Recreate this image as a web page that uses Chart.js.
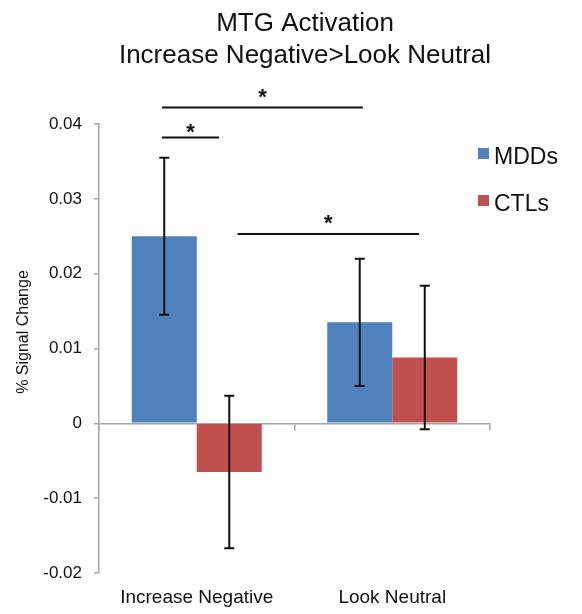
<!DOCTYPE html>
<html>
<head>
<meta charset="utf-8">
<script src="https://cdn.jsdelivr.net/npm/chart.js@4/dist/chart.umd.min.js"></script>
<style>
  html, body { margin: 0; padding: 0; background: #fff; }
  #wrap { width: 582px; height: 614px; }
</style>
</head>
<body>
<div id="wrap"><canvas id="c" width="582" height="614"></canvas></div>
<script>
// ---- data ----
const chartTitle = ['MTG Activation', 'Increase Negative>Look Neutral'];
const yAxisTitle = '% Signal Change';
const categories = ['Increase Negative', 'Look Neutral'];
const seriesNames = ['MDDs', 'CTLs'];
const mddValues = [0.025, 0.0135];
const ctlValues = [-0.0065, 0.0088];
const mddErrors = [0.0105, 0.0085];
const ctlErrors = [0.0102, 0.0096];
const yTickLabels = ['-0.02', '-0.01', '0', '0.01', '0.02', '0.03', '0.04'];
// significance brackets (x in category-index units, y in data units)
const sigLabels = ['*', '*', '*'];
const sigFrom = [-0.178, -0.178, 0.209];
const sigTo = [0.85, 0.114, 1.137];
const sigLineY = [0.0422, 0.0382, 0.0253];
const sigStarY = [0.0443, 0.0397, 0.0275];

// ---- styles ----
const FONT = "'Liberation Sans', Arial, Helvetica, sans-serif";
const BLUE = '#4f81bd';
const RED = '#c0504d';
const AXIS = '#a6a6a6';
const TEXT = '#111111';

const extras = {
  id: 'extras',
  afterDatasetsDraw(chart) {
    const ctx = chart.ctx, xs = chart.scales.x, ys = chart.scales.y;
    ctx.save();
    // error bars
    ctx.strokeStyle = '#111';
    ctx.lineWidth = 2;
    [mddErrors, ctlErrors].forEach((errs, di) => {
      const meta = chart.getDatasetMeta(di);
      meta.data.forEach((bar, i) => {
        const v = chart.data.datasets[di].data[i];
        const yt = ys.getPixelForValue(v + errs[i]);
        const yb = ys.getPixelForValue(v - errs[i]);
        const cx = bar.x;
        ctx.beginPath();
        ctx.moveTo(cx, yt); ctx.lineTo(cx, yb);
        ctx.moveTo(cx - 5, yt); ctx.lineTo(cx + 5, yt);
        ctx.moveTo(cx - 5, yb); ctx.lineTo(cx + 5, yb);
        ctx.stroke();
      });
    });
    // significance brackets
    ctx.strokeStyle = '#111';
    ctx.lineWidth = 2;
    ctx.fillStyle = TEXT;
    ctx.font = 'bold 22px ' + FONT;
    ctx.textAlign = 'center';
    ctx.textBaseline = 'alphabetic';
    sigLabels.forEach((lab, i) => {
      const x1 = xs.getPixelForValue(sigFrom[i]);
      const x2 = xs.getPixelForValue(sigTo[i]);
      const yy = ys.getPixelForValue(sigLineY[i]);
      ctx.beginPath();
      ctx.moveTo(x1, yy); ctx.lineTo(x2, yy);
      ctx.stroke();
      const sy = ys.getPixelForValue(sigStarY[i]);
      ctx.fillText(lab, (x1 + x2) / 2, sy + 12.5);
    });
    ctx.restore();
  },
  afterDraw(chart) {
    const ctx = chart.ctx;
    ctx.save();
    ctx.fillStyle = TEXT;
    // title
    ctx.font = '26px ' + FONT;
    ctx.textAlign = 'center';
    ctx.textBaseline = 'alphabetic';
    ctx.fillText(chartTitle[0], 305, 31);
    ctx.fillText(chartTitle[1], 305, 63);
    // y-axis title
    ctx.save();
    ctx.font = '16px ' + FONT;
    ctx.translate(24, 332);
    ctx.rotate(-Math.PI / 2);
    ctx.textAlign = 'center';
    ctx.textBaseline = 'middle';
    ctx.fillText(yAxisTitle, 0, 0);
    ctx.restore();
    // legend
    ctx.font = '23px ' + FONT;
    ctx.textAlign = 'left';
    ctx.textBaseline = 'alphabetic';
    chart.data.datasets.forEach((ds, i) => {
      const top = 148 + i * 47;
      ctx.fillStyle = ds.backgroundColor;
      ctx.fillRect(478, top, 11, 11);
      ctx.fillStyle = TEXT;
      ctx.fillText(ds.label, 494, top + 15.5);
    });
    ctx.restore();
  }
};

new Chart(document.getElementById('c'), {
  type: 'bar',
  data: {
    labels: categories,
    datasets: [
      { label: seriesNames[0], data: mddValues, backgroundColor: BLUE, borderWidth: 0 },
      { label: seriesNames[1], data: ctlValues, backgroundColor: RED, borderWidth: 0 }
    ]
  },
  options: {
    responsive: false,
    animation: false,
    devicePixelRatio: 1,
    layout: { padding: { left: 0, top: 124, right: 92, bottom: 4 } },
    datasets: { bar: { categoryPercentage: 0.665, barPercentage: 1.0 } },
    plugins: {
      legend: { display: false },
      title: { display: false },
      tooltip: { enabled: false }
    },
    scales: {
      x: {
        type: 'category',
        offset: true,
        afterFit(scale) { scale.height = 37; },
        grid: { display: false, drawTicks: false, tickLength: 0 },
        border: { display: false },
        ticks: { color: TEXT, font: { family: FONT, size: 19 }, padding: 13, maxRotation: 0 }
      },
      x2: {
        type: 'category',
        labels: categories,
        position: { y: 0 },
        offset: true,
        afterFit(scale) { scale.height = 0; },
        grid: { offset: true, drawOnChartArea: false, drawTicks: true, tickLength: 6, color: AXIS, lineWidth: 1.5 },
        border: { display: true, color: AXIS, width: 1.5 },
        ticks: { display: false }
      },
      y: {
        min: -0.02,
        max: 0.04,
        afterFit(scale) { scale.width = 99; },
        grid: { drawOnChartArea: false, drawTicks: true, tickLength: 5, color: AXIS, lineWidth: 1.5 },
        border: { display: true, color: AXIS, width: 1.5 },
        ticks: {
          stepSize: 0.01,
          padding: 12,
          color: TEXT,
          font: { family: FONT, size: 17 },
          callback: (v, i) => yTickLabels[i] !== undefined ? yTickLabels[i] : String(v)
        }
      }
    }
  },
  plugins: [extras]
});
</script>
</body>
</html>
